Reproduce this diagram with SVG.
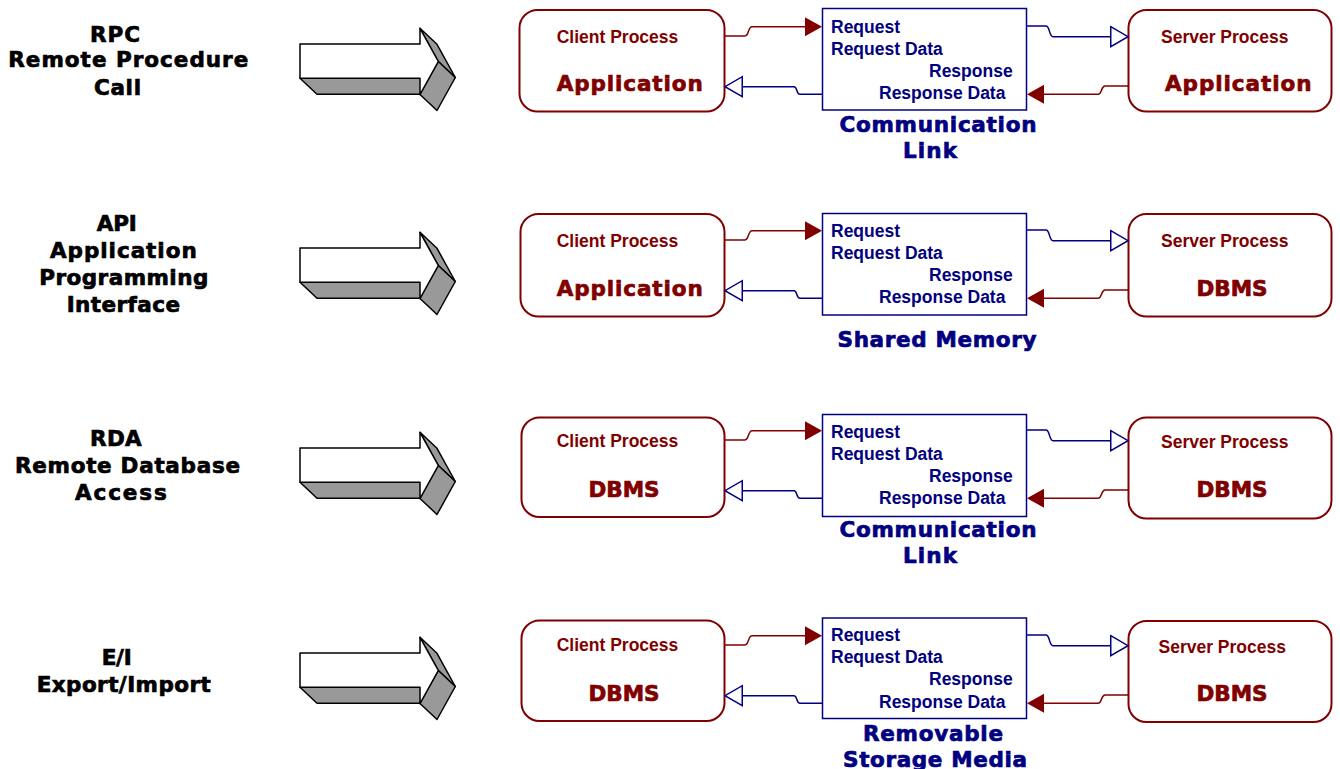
<svg xmlns="http://www.w3.org/2000/svg" width="1340" height="769" viewBox="0 0 1340 769">
<style>
.lbl{font-family:"DejaVu Sans",Verdana,sans-serif;font-weight:bold;font-size:21.5px;fill:#000;stroke:#000;stroke-width:0.7}
.hr{font-family:"DejaVu Sans",Verdana,sans-serif;font-weight:bold;font-size:21.5px;fill:#800000;stroke:#800000;stroke-width:0.7}
.hb{font-family:"DejaVu Sans",Verdana,sans-serif;font-weight:bold;font-size:21.5px;fill:#000080;stroke:#000080;stroke-width:0.7}
.proc{font-family:"Liberation Sans",Arial,sans-serif;font-weight:bold;font-size:17.5px;fill:#800000}
.lt{font-family:"Liberation Sans",Arial,sans-serif;font-weight:bold;font-size:17.5px;fill:#000080}
.pbox{fill:#fff;stroke:#800000;stroke-width:2}
.lbox{fill:#fff;stroke:#000080;stroke-width:1.5}
.cr{fill:none;stroke:#800000;stroke-width:1.5}
.cb{fill:none;stroke:#000080;stroke-width:1.5}
.front{fill:#fff;stroke:#000;stroke-width:1.5;stroke-linejoin:round}
.side{fill:#999;stroke:#000;stroke-width:1.5;stroke-linejoin:round}
</style>
<defs>
<marker id="fr" markerUnits="userSpaceOnUse" markerWidth="20" markerHeight="22" refX="0" refY="9.5" orient="auto" overflow="visible"><path d="M0,0 L17,9.5 L0,19 z" fill="#800000"/></marker>
<marker id="hbm" markerUnits="userSpaceOnUse" markerWidth="22" markerHeight="24" refX="0" refY="10" orient="auto" overflow="visible"><path d="M0.75,0 L18,10 L0.75,20 z" fill="#fff" stroke="#000080" stroke-width="1.5"/></marker>
<g id="arrow3d">
<polygon class="side" points="300,78.3 420,78.3 437,94.3 317,94.3"/>
<polygon class="side" points="420,28.3 437,44.3 455.3,77.5 438.3,61.5"/>
<polygon class="side" points="438.3,61.5 455.3,77.5 437,110.5 420,94.5"/>
<polygon class="front" points="300,44 420,44 420,28.3 438.3,61.5 420,94.5 420,78.3 300,78.3"/>
</g>
</defs>

<!-- Row 1 -->
<g id="label-rpc">
<text class="lbl" x="90" y="41.7" textLength="50" lengthAdjust="spacing">RPC</text>
<text class="lbl" x="8.3" y="67" textLength="240" lengthAdjust="spacing">Remote Procedure</text>
<text class="lbl" x="94" y="95" textLength="47" lengthAdjust="spacing">Call</text>
</g>
<g id="arrow-1"><use href="#arrow3d"/></g>
<g id="client-1">
<rect class="pbox" x="519.5" y="10" width="205" height="101.5" rx="18"/>
<text class="proc" x="556.7" y="42.7">Client Process</text>
<text class="hr" x="556.7" y="90.7" textLength="146" lengthAdjust="spacing">Application</text>
</g>
<g id="link-1">
<rect class="lbox" x="822.5" y="8.5" width="204" height="101.5"/>
<text class="lt" x="831" y="33.3">Request</text>
<text class="lt" x="831" y="54.5">Request Data</text>
<text class="lt" x="929" y="76.7">Response</text>
<text class="lt" x="879" y="99">Response Data</text>
<text class="hb" x="839.5" y="131.7" textLength="197" lengthAdjust="spacing">Communication</text>
<text class="hb" x="903" y="158.3" textLength="54" lengthAdjust="spacing">Link</text>
</g>
<g id="server-1">
<rect class="pbox" x="1128.5" y="10" width="203" height="101.5" rx="18"/>
<text class="proc" x="1161" y="42.7">Server Process</text>
<text class="hr" x="1165" y="90.7" textLength="146.5" lengthAdjust="spacing">Application</text>
</g>

<!-- Row 2 -->
<g id="label-api">
<text class="lbl" x="96.7" y="231" textLength="40" lengthAdjust="spacing">API</text>
<text class="lbl" x="50" y="258.3" textLength="146.7" lengthAdjust="spacing">Application</text>
<text class="lbl" x="39.3" y="285" textLength="169" lengthAdjust="spacing">Programming</text>
<text class="lbl" x="66.7" y="311.7" textLength="113.3" lengthAdjust="spacing">Interface</text>
</g>
<g id="arrow-2" transform="translate(0,204)"><use href="#arrow3d"/></g>
<g id="client-2">
<rect class="pbox" x="520.5" y="214" width="204" height="102.5" rx="18"/>
<text class="proc" x="556.7" y="246.5">Client Process</text>
<text class="hr" x="556.7" y="296" textLength="146" lengthAdjust="spacing">Application</text>
</g>
<g id="link-2">
<rect class="lbox" x="822.5" y="213.5" width="204" height="101.5"/>
<text class="lt" x="831" y="237.3">Request</text>
<text class="lt" x="831" y="258.5">Request Data</text>
<text class="lt" x="929" y="280.7">Response</text>
<text class="lt" x="879" y="303">Response Data</text>
<text class="hb" x="837.5" y="347" textLength="199" lengthAdjust="spacing">Shared Memory</text>
</g>
<g id="server-2">
<rect class="pbox" x="1128.5" y="214" width="203" height="102.5" rx="18"/>
<text class="proc" x="1161" y="246.5">Server Process</text>
<text class="hr" x="1196.5" y="296" textLength="71" lengthAdjust="spacing">DBMS</text>
</g>

<!-- Row 3 -->
<g id="label-rda">
<text class="lbl" x="90" y="446" textLength="51.7" lengthAdjust="spacing">RDA</text>
<text class="lbl" x="15" y="473.3" textLength="225" lengthAdjust="spacing">Remote Database</text>
<text class="lbl" x="75" y="500" textLength="91.7" lengthAdjust="spacing">Access</text>
</g>
<g id="arrow-3" transform="translate(0,404)"><use href="#arrow3d"/></g>
<g id="client-3">
<rect class="pbox" x="521.5" y="417.5" width="203" height="99.5" rx="18"/>
<text class="proc" x="556.7" y="446.5">Client Process</text>
<text class="hr" x="588.5" y="497" textLength="71" lengthAdjust="spacing">DBMS</text>
</g>
<g id="link-3">
<rect class="lbox" x="822.5" y="414.5" width="204" height="102"/>
<text class="lt" x="831" y="437.5">Request</text>
<text class="lt" x="831" y="459.5">Request Data</text>
<text class="lt" x="929" y="481.5">Response</text>
<text class="lt" x="879" y="504">Response Data</text>
<text class="hb" x="839.5" y="536.7" textLength="197" lengthAdjust="spacing">Communication</text>
<text class="hb" x="903" y="563.3" textLength="54" lengthAdjust="spacing">Link</text>
</g>
<g id="server-3">
<rect class="pbox" x="1128.5" y="417.5" width="203" height="101" rx="18"/>
<text class="proc" x="1161" y="448.3">Server Process</text>
<text class="hr" x="1196.5" y="497" textLength="71" lengthAdjust="spacing">DBMS</text>
</g>

<!-- Row 4 -->
<g id="label-ei">
<text class="lbl" x="101.7" y="665" textLength="30" lengthAdjust="spacing">E/I</text>
<text class="lbl" x="36.7" y="691.7" textLength="174" lengthAdjust="spacing">Export/Import</text>
</g>
<g id="arrow-4" transform="translate(0,609)"><use href="#arrow3d"/></g>
<g id="client-4">
<rect class="pbox" x="521.5" y="620.5" width="203" height="100.5" rx="18"/>
<text class="proc" x="556.7" y="651">Client Process</text>
<text class="hr" x="588.5" y="701" textLength="71" lengthAdjust="spacing">DBMS</text>
</g>
<g id="link-4">
<rect class="lbox" x="822.5" y="618" width="204" height="100.5"/>
<text class="lt" x="831" y="641.3">Request</text>
<text class="lt" x="831" y="663">Request Data</text>
<text class="lt" x="929" y="685">Response</text>
<text class="lt" x="879" y="707.5">Response Data</text>
<text class="hb" x="863" y="741" textLength="140" lengthAdjust="spacing">Removable</text>
<text class="hb" x="843" y="766.5" textLength="184" lengthAdjust="spacing">Storage Media</text>
</g>
<g id="server-4">
<rect class="pbox" x="1128.5" y="621" width="203" height="101" rx="18"/>
<text class="proc" x="1158.5" y="653">Server Process</text>
<text class="hr" x="1196.5" y="701" textLength="71" lengthAdjust="spacing">DBMS</text>
</g>

<!-- Connectors -->
<g id="connectors">
<g transform="translate(0,0)">
<path class="cr" d="M724.5,36 H745 C749,36 748,26.7 752,26.7 H805" marker-end="url(#fr)"/>
<path class="cb" d="M822.5,94.3 H800 C796,94.3 797.5,86.7 794,86.7 H743" marker-end="url(#hbm)"/>
<path class="cb" d="M1026.5,26 H1046 C1050,26 1049,36.7 1053,36.7 H1110" marker-end="url(#hbm)"/>
<path class="cr" d="M1128.5,86 H1105 C1101,86 1102,94.3 1098,94.3 H1044" marker-end="url(#fr)"/>
</g>
<g transform="translate(0,204)">
<path class="cr" d="M724.5,36 H745 C749,36 748,26.7 752,26.7 H805" marker-end="url(#fr)"/>
<path class="cb" d="M822.5,94.3 H800 C796,94.3 797.5,86.7 794,86.7 H743" marker-end="url(#hbm)"/>
<path class="cb" d="M1026.5,26 H1046 C1050,26 1049,36.7 1053,36.7 H1110" marker-end="url(#hbm)"/>
<path class="cr" d="M1128.5,86 H1105 C1101,86 1102,94.3 1098,94.3 H1044" marker-end="url(#fr)"/>
</g>
<g transform="translate(0,404)">
<path class="cr" d="M724.5,36 H745 C749,36 748,26.7 752,26.7 H805" marker-end="url(#fr)"/>
<path class="cb" d="M822.5,94.3 H800 C796,94.3 797.5,86.7 794,86.7 H743" marker-end="url(#hbm)"/>
<path class="cb" d="M1026.5,26 H1046 C1050,26 1049,36.7 1053,36.7 H1110" marker-end="url(#hbm)"/>
<path class="cr" d="M1128.5,86 H1105 C1101,86 1102,94.3 1098,94.3 H1044" marker-end="url(#fr)"/>
</g>
<g transform="translate(0,609)">
<path class="cr" d="M724.5,36 H745 C749,36 748,26.7 752,26.7 H805" marker-end="url(#fr)"/>
<path class="cb" d="M822.5,94.3 H800 C796,94.3 797.5,86.7 794,86.7 H743" marker-end="url(#hbm)"/>
<path class="cb" d="M1026.5,26 H1046 C1050,26 1049,36.7 1053,36.7 H1110" marker-end="url(#hbm)"/>
<path class="cr" d="M1128.5,86 H1105 C1101,86 1102,94.3 1098,94.3 H1044" marker-end="url(#fr)"/>
</g>
</g>
</svg>
